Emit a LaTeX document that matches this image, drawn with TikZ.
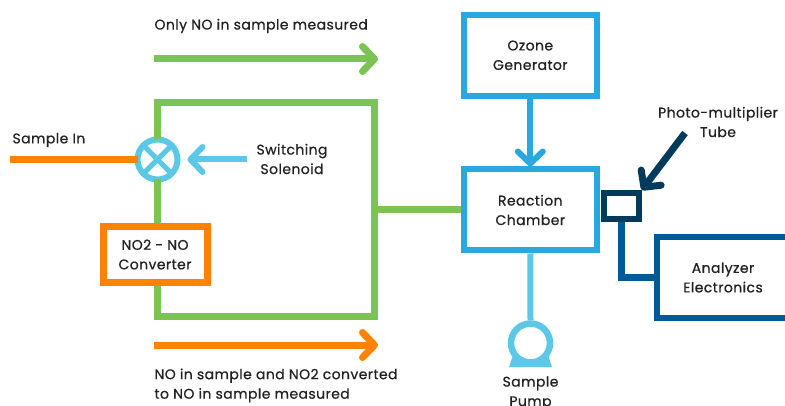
\documentclass[tikz,border=0pt]{standalone}
\usepackage{fontspec}
\setmainfont{Poppins}[FakeBold=0.7, LetterSpace=3]
\usetikzlibrary{arrows.meta}
\definecolor{flowgreen}{HTML}{7BC453}
\definecolor{floworange}{HTML}{FF8200}
\definecolor{lightblue}{HTML}{5BC8E8}
\definecolor{midblue}{HTML}{29A8E0}
\definecolor{navy}{HTML}{003A5C}
\definecolor{deepblue}{HTML}{005A96}
\definecolor{textgray}{HTML}{222222}
\begin{document}
\begin{tikzpicture}[x=1pt,y=-1pt,
  every node/.style={font=\fontsize{14}{19.5}\selectfont, text=textgray, align=center},
  box/.style={draw, fill=white, line width=6pt, minimum width=133pt, minimum height=81pt, inner sep=0pt},
  chev/.tip={Straight Barb[length=12pt,width=25pt,round]},
  greenline/.style={draw=flowgreen, line width=7pt},
  orangeline/.style={draw=floworange, line width=7pt},
]
\useasboundingbox (0,0) rectangle (785,406);
\clip (0,0) rectangle (785,406);

% main boxes
\node[box, draw=midblue] (ozone) at (530.3,55.3) {Ozone\\Generator};
\node[box, draw=midblue] (chamber) at (530.3,210) {Reaction\\Chamber};
\node[box, draw=deepblue] (analyzer) at (723,277.5) {Analyzer\\Electronics};
\node[draw=navy, fill=white, line width=6pt, minimum width=35pt, minimum height=26pt, inner sep=0pt] (pmt) at (621.3,206) {};
\node[draw=floworange, fill=white, line width=7pt, minimum width=104pt, minimum height=56pt, inner sep=0pt] (conv) at (155,254.5) {NO2 - NO\\Converter};

% switching valve
\node[circle, draw=lightblue, fill=white, line width=6pt, minimum size=40pt, inner sep=0pt, outer sep=0pt] (valve) at (157.5,159.5) {};
\draw[lightblue, line width=5pt] (valve.45) -- (valve.225) (valve.135) -- (valve.315);

% green sample loop
\coordinate (tr) at (374.5,103);
\coordinate (br) at (374.5,317);
\coordinate (junc) at (374.5,210);
\draw[greenline, line join=miter] (valve.north) |- (tr) -- (br) -| (conv.south -| valve.south);
\draw[greenline] (valve.south) -- (valve.south |- conv.north);
\draw[greenline] (junc) -- (chamber.west);

% sample inlet
\coordinate (inlet) at (10,159.5);
\draw[orangeline] (inlet) -- (valve.west);
\node[anchor=west] (samplein) at (9,140) {Sample In};

% solenoid
\node (sol) at (292,159) {Switching\\Solenoid};
\coordinate (solstart) at (247,159.5);
\draw[lightblue, line width=6pt, -chev, shorten >=10pt] (solstart) -- (valve.east);

% ozone feed
\draw[midblue, line width=6pt, -chev] (ozone.south) -- (chamber.north);

% photomultiplier tube
\node (pmtlabel) at (718,122) {Photo-multiplier\\Tube};
\coordinate (pmtarrow) at (685,133);
\draw[navy, line width=7pt, -chev] (pmtarrow) -- (pmt.north east);
\draw[deepblue, line width=7pt, line join=miter] (pmt.south) |- (analyzer.west);

% sample pump
\fill[lightblue] (513,355) -- (548,355) -- (552,367) -- (509,367) -- cycle;
\node[circle, draw=lightblue, fill=white, line width=6.5pt, minimum size=39pt, inner sep=0pt] (pump) at (530.5,343) {};
\draw[lightblue, line width=6pt] (chamber.south) -- (pump.north);
\node (pumplabel) at (530.5,393) {Sample\\Pump};

% legend arrows
\node[anchor=west] (onlyno) at (151,26) {Only NO in sample measured};
\coordinate (ga) at (154,59);
\coordinate (gb) at (378,59);
\draw[flowgreen, line width=7pt, -chev] (ga) -- (gb);
\coordinate (oa) at (154,345);
\coordinate (ob) at (378,345);
\draw[floworange, line width=7pt, -chev] (oa) -- (ob);
\node[anchor=north west, align=left] (bothno) at (151,365) {NO in sample and NO2 converted\\to NO in sample measured};
\end{tikzpicture}
\end{document}
